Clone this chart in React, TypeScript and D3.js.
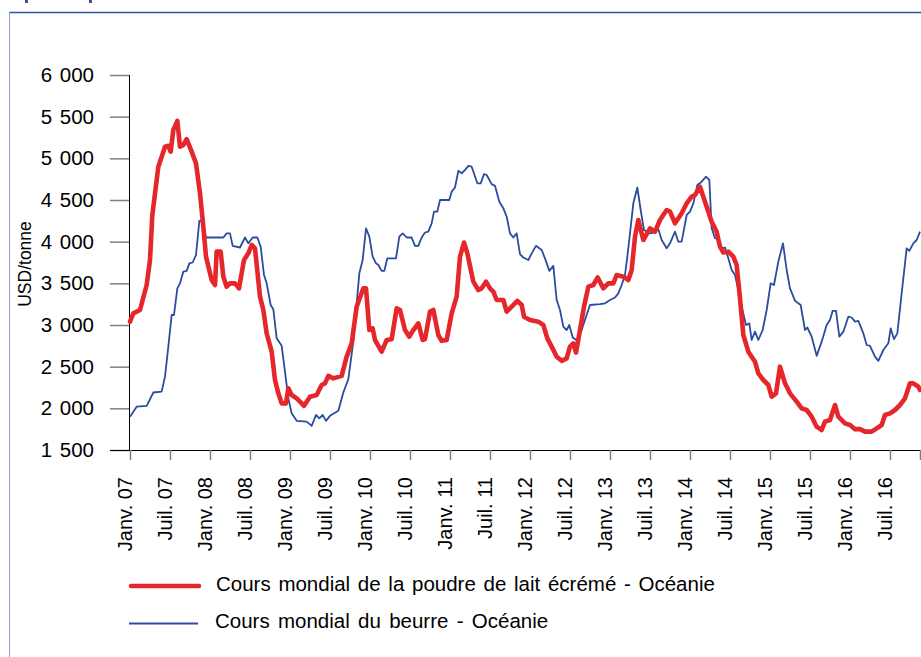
import React, { useEffect, useRef } from "react";
import * as d3 from "d3";

// months since Janv. 07 (fractional) and USD/tonne
const smpMonths = [
  0, 0.5, 1.5, 2.5, 3, 3.35, 4.25, 5.25, 5.75, 6.1, 6.5, 7.1, 7.5, 8, 8.5, 9.25, 9.9, 10.5, 11, 11.4,
  12.25, 12.75, 13, 13.6, 14, 14.5, 15, 15.75, 16.35, 17.1, 17.75, 18.25, 18.75, 19.5, 20, 20.5, 21.25,
  21.75, 22.25, 22.75, 23.4, 23.75, 24.25, 25, 25.5, 26.1, 27, 28, 28.75, 29.25, 29.75, 30.5, 31.75,
  32.5, 33.25, 34, 35, 35.4, 35.9, 36.4, 36.75, 37.75, 38.5, 39.25, 40, 40.5, 41.25, 41.9, 42.5, 43.25,
  43.9, 44.25, 45, 45.5, 46.25, 46.75, 47.5, 48.25, 49, 49.5, 50.1, 50.6, 51.5, 52.25, 52.75, 53.4, 54,
  54.5, 55, 56, 56.5, 57.25, 58.1, 58.75, 59.1, 60, 61.25, 62, 62.6, 63.25, 64, 64.75, 65.5, 66, 66.5,
  66.9, 67.5, 68.1, 68.75, 69.5, 70.15, 71, 71.75, 72.5, 73, 74, 74.75, 75.25, 75.75, 76.25, 77, 78,
  78.75, 79.5, 80.5, 81, 81.75, 82.75, 83.5, 84.25, 84.75, 85.5, 86, 86.5, 87.25, 88, 88.5, 89, 89.75,
  90.5, 91, 91.5, 92, 92.75, 93.75, 94.25, 95, 95.75, 96.25, 96.9, 97.5, 98.25, 99, 100, 100.75, 101.5,
  102.25, 103, 103.75, 104.25, 105, 105.75, 106.25, 107.25, 108, 108.75, 109.5, 110.25, 111.25, 112,
  112.75, 113.25, 114, 114.75, 115.5, 116.25, 117, 117.5, 118.25, 118.5,
];
const smpValues = [
  3040, 3140, 3180, 3480, 3780, 4320, 4900, 5140, 5150, 5080, 5340, 5450, 5140, 5160, 5230, 5080, 4940,
  4580, 4180, 3820, 3540, 3480, 3880, 3880, 3580, 3460, 3500, 3500, 3440, 3780, 3860, 3960, 3920, 3340,
  3180, 2900, 2680, 2340, 2180, 2060, 2060, 2240, 2160, 2120, 2080, 2030, 2140, 2160, 2280, 2300, 2390,
  2360, 2390, 2620, 2780, 3220, 3440, 3440, 2940, 2960, 2820, 2680, 2820, 2830, 3200, 3180, 2940, 2860,
  2940, 3020, 2820, 2830, 3160, 3180, 2880, 2810, 2820, 3140, 3340, 3820, 3990, 3860, 3520, 3420, 3440,
  3520, 3440, 3400, 3300, 3300, 3160, 3220, 3290, 3240, 3100, 3060, 3040, 3000, 2840, 2740, 2620, 2570,
  2600, 2740, 2780, 2670, 2940, 3220, 3460, 3480, 3570, 3440, 3500, 3500, 3600, 3580, 3540, 3660, 4060,
  4260, 4020, 4160, 4120, 4260, 4380, 4360, 4220, 4340, 4460, 4540, 4560, 4660, 4540, 4420, 4240, 4120,
  3940, 3870, 3880, 3820, 3720, 3320, 2880, 2680, 2560, 2420, 2340, 2280, 2140, 2180, 2500, 2300, 2180,
  2080, 2000, 1980, 1900, 1780, 1740, 1840, 1860, 2040, 1900, 1820, 1800, 1750, 1750, 1720, 1720, 1760,
  1800, 1920, 1940, 1980, 2040, 2120, 2300, 2300, 2260, 2220,
];

const butterMonths = [
  0, 1, 2.5, 3.5, 4.75, 5.25, 5.75, 6.25, 6.6, 7.1, 7.5, 8, 8.5, 8.9, 9.4, 9.9, 10.4, 10.7, 11.4, 14,
  14.5, 15, 15.4, 16.5, 17.25, 17.75, 18.4, 19.1, 19.6, 20.1, 20.5, 21.1, 21.5, 22, 22.75, 23.15, 23.75,
  24.25, 25, 26.5, 27.25, 27.9, 28.4, 28.9, 29.4, 30, 31.25, 32, 32.75, 33.5, 34.4, 34.9, 35.4, 35.9,
  36.4, 36.9, 37.25, 37.75, 38.15, 38.6, 39.9, 40.4, 40.9, 41.5, 42.25, 42.75, 43.25, 43.75, 44.25,
  44.75, 45.25, 45.6, 46.1, 46.5, 47.9, 48.25, 48.75, 49.25, 49.75, 50.25, 50.75, 51.25, 52.1, 52.6,
  53.1, 53.5, 54.25, 54.75, 55.4, 56, 56.5, 57, 57.5, 58, 58.5, 59, 59.75, 60.25, 60.9, 61.75, 62.25,
  62.9, 63.5, 64, 64.5, 65, 65.5, 65.9, 66.4, 67.1, 67.75, 68.4, 69, 70.5, 71.25, 72, 72.75, 73.25,
  73.75, 74.25, 74.6, 75, 75.5, 76.1, 76.6, 77.1, 78, 78.6, 79.25, 79.75, 80.5, 81, 81.75, 82.25, 82.75,
  83.5, 84, 84.5, 85.1, 85.75, 86.4, 86.9, 87.25, 87.75, 88.25, 88.75, 89.25, 89.75, 90.25, 90.75,
  91.25, 91.75, 92.4, 92.9, 93.25, 93.75, 94.25, 94.9, 95.5, 96.1, 96.6, 97.25, 97.95, 98.5, 99, 99.75,
  100.6, 101.25, 101.6, 102.25, 103, 103.75, 104.5, 105, 105.4, 105.9, 106.4, 107, 107.75, 108.25,
  108.75, 109.25, 110, 110.5, 111, 111.75, 112.25, 113, 113.75, 114.1, 114.6, 115.1, 115.75, 116.5,
  116.9, 117.5, 118, 118.5,
];
const butterValues = [
  1900, 2020, 2030, 2190, 2200, 2380, 2740, 3120, 3120, 3440, 3500, 3640, 3650, 3740, 3750, 3840, 4250,
  4250, 4050, 4050, 4100, 4100, 3950, 3930, 4050, 3980, 4050, 4050, 3940, 3600, 3500, 3240, 3190, 2840,
  2750, 2500, 2120, 1940, 1850, 1840, 1790, 1920, 1880, 1920, 1850, 1910, 1970, 2190, 2350, 2800, 3620,
  3780, 4160, 4060, 3820, 3740, 3720, 3650, 3650, 3800, 3800, 4060, 4100, 4050, 4050, 3950, 3950, 4050,
  4110, 4120, 4220, 4360, 4360, 4500, 4500, 4600, 4650, 4850, 4820, 4860, 4910, 4900, 4700, 4700, 4810,
  4800, 4690, 4670, 4480, 4400, 4300, 4100, 4050, 4100, 3850, 3810, 3780, 3860, 3950, 3900, 3800, 3650,
  3710, 3300, 3180, 2980, 2940, 3000, 2850, 2810, 2940, 3100, 3240, 3250, 3260, 3300, 3330, 3380, 3480,
  3600, 3820, 4100, 4460, 4650, 4380, 4140, 4100, 4110, 4150, 4020, 3920, 3980, 4120, 4000, 4000, 4320,
  4360, 4460, 4680, 4720, 4780, 4740, 4160, 4040, 4040, 3920, 3930, 3800, 3660, 3600, 3420, 3220, 3000,
  3020, 2820, 2920, 2820, 2940, 3180, 3500, 3480, 3760, 3980, 3660, 3440, 3290, 3240, 2940, 2970, 2860,
  2630, 2800, 3000, 3060, 3170, 3170, 2860, 2920, 3100, 3090, 3040, 3050, 2900, 2760, 2750, 2620, 2570,
  2700, 2780, 2960, 2830, 2900, 3380, 3920, 3890, 3980, 4020, 4120,
];

const yTicks = [1500, 2000, 2500, 3000, 3500, 4000, 4500, 5000, 5500, 6000];
const xTickMonths = d3.range(0, 120, 6);
const xTickLabels = [
  "Janv. 07", "Juil. 07", "Janv. 08", "Juil. 08", "Janv. 09", "Juil. 09", "Janv. 10", "Juil. 10",
  "Janv. 11", "Juil. 11", "Janv. 12", "Juil. 12", "Janv. 13", "Juil. 13", "Janv. 14", "Juil. 14",
  "Janv. 15", "Juil. 15", "Janv. 16", "Juil. 16",
];
const seriesNames = [
  "Cours mondial de la poudre de lait écrémé - Océanie",
  "Cours mondial du beurre - Océanie",
];

const W = 921;
const H = 657;
const FONT = "'Liberation Sans', Arial, sans-serif";
const RED = "#e5262a";
const BLUE = "#2b4c9f";
const FS = 20.5;

export default function App() {
  const xAxisRef = useRef<SVGGElement>(null);
  const yAxisRef = useRef<SVGGElement>(null);

  const x = d3.scaleLinear().domain([0, 118.5]).range([130, 920]);
  const y = d3.scaleLinear().domain([1500, 6000]).range([450, 75]);

  const makePath = (months: number[], values: number[]) =>
    d3.line<number>()
      .x((d) => x(d))
      .y((_, i) => y(values[i]))(months) || "";

  useEffect(() => {
    const fmt = (v: number) => d3.format(",")(v).replace(",", " ");
    const yAxis = d3.select(yAxisRef.current!);
    yAxis.call(d3.axisLeft(y).tickValues(yTicks).tickSize(19).tickPadding(16).tickFormat((d) => fmt(d as number)));
    yAxis.select(".domain").attr("stroke", "#000").attr("d", `M0.5,${y(6000)}V${y(1500)}`);
    yAxis.selectAll(".tick line").attr("stroke", "#808080").attr("stroke-width", 1.5);
    yAxis
      .selectAll(".tick text")
      .attr("fill", "#000")
      .style("word-spacing", "2px")
      .style("font-family", FONT)
      .style("font-size", `${FS}px`);

    const xAxis = d3.select(xAxisRef.current!);
    xAxis.call(
      d3.axisBottom(x)
        .tickValues([...xTickMonths, 118.5])
        .tickSize(10)
        .tickFormat((d, i) => xTickLabels[i] ?? "")
    );
    xAxis.select(".domain").attr("stroke", "#000").attr("d", `M110,0.5H920`);
    xAxis.selectAll(".tick line").attr("stroke", "#808080").attr("stroke-width", 1.5);
    xAxis
      .selectAll(".tick text")
      .attr("fill", "#000")
      .attr("transform", "rotate(-90)")
      .attr("text-anchor", "end")
      .attr("x", -27)
      .attr("y", 1.5)
      .attr("dy", 0)
      .style("font-family", FONT)
      .style("font-size", "20px");
  }, []);

  return (
    <svg
      width={W}
      height={H}
      style={{ position: "absolute", left: 0, top: 0, background: "#fff" }}
    >
      <rect x={0} y={0} width={W} height={H} fill="#fff" />
      {/* cut-off header fragments */}
      <rect x={25} y={0} width={3} height={3} fill="#2f54a5" />
      <rect x={89} y={0} width={3} height={3} fill="#2f54a5" />
      {/* frame */}
      <line x1={9} x2={W} y1={12.5} y2={12.5} stroke="#2f54a5" strokeWidth={1.5} />
      <line x1={9.5} x2={9.5} y1={12} y2={H} stroke="#8b9ccf" strokeWidth={1} />

      <g ref={yAxisRef} transform="translate(129,0)" />
      <g ref={xAxisRef} transform="translate(0,450)" />

      <text
        transform="translate(31,264) rotate(-90)"
        textAnchor="middle"
        fontFamily={FONT}
        fontSize={17.5}
        fill="#000"
      >
        USD/tonne
      </text>

      <path
        d={makePath(butterMonths, butterValues)}
        fill="none"
        stroke={BLUE}
        strokeWidth={1.8}
        strokeLinejoin="round"
      />
      <path
        d={makePath(smpMonths, smpValues)}
        fill="none"
        stroke={RED}
        strokeWidth={4.6}
        strokeLinejoin="round"
        strokeLinecap="round"
      />

      {/* legend */}
      <line x1={131} x2={199} y1={586} y2={586} stroke={RED} strokeWidth={4.5} strokeLinecap="round" />
      <text x={216} y={590.5} fontFamily={FONT} fontSize={FS} fill="#000" style={{ wordSpacing: "2px" }}>
        {seriesNames[0]}
      </text>
      <line x1={129} x2={198} y1={623.5} y2={623.5} stroke={BLUE} strokeWidth={1.8} />
      <text x={215} y={627.5} fontFamily={FONT} fontSize={FS} fill="#000" style={{ wordSpacing: "2.6px" }}>
        {seriesNames[1]}
      </text>
    </svg>
  );
}
